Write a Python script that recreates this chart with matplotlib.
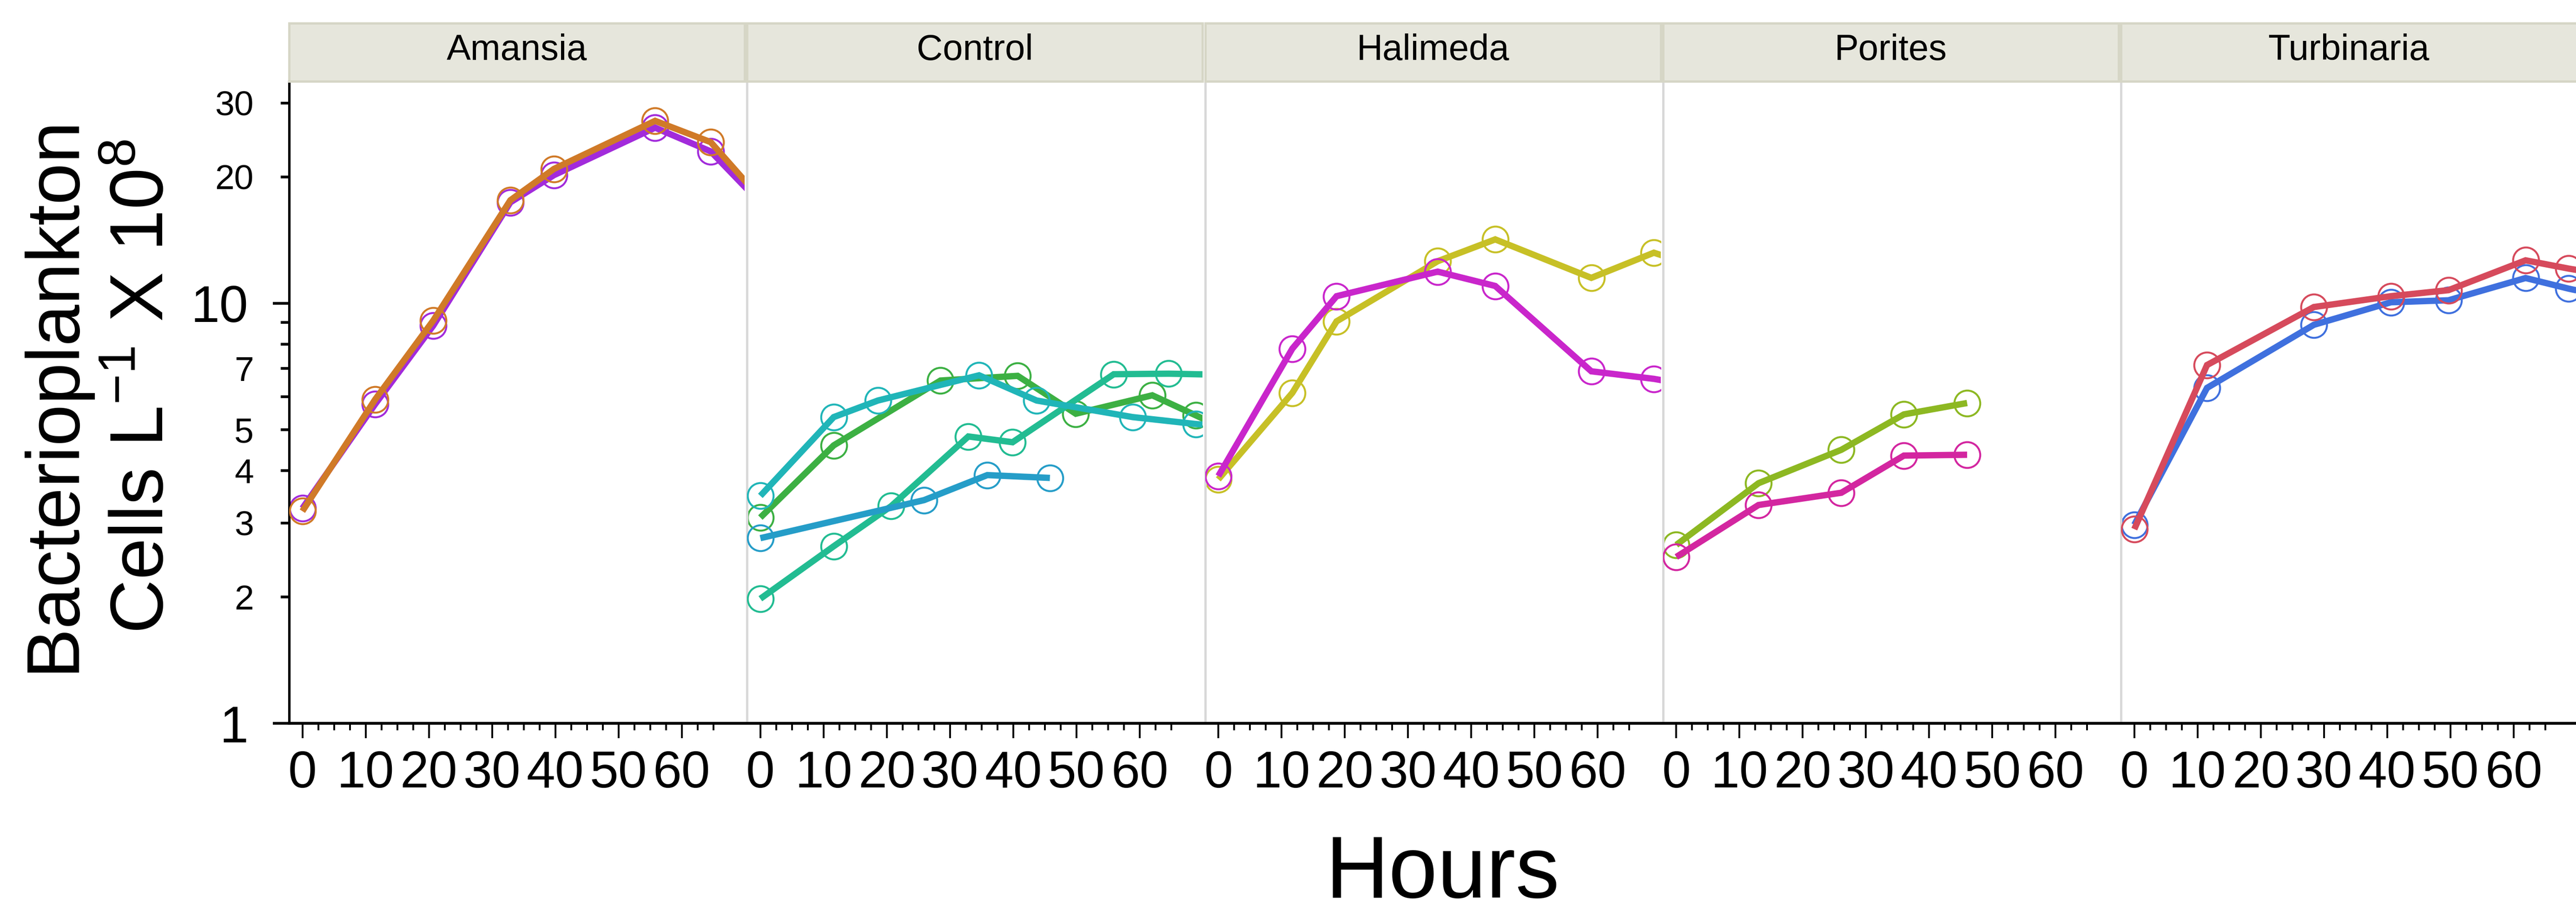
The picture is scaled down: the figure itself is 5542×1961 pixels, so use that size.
import matplotlib
matplotlib.use('Agg')
import matplotlib.pyplot as plt
from matplotlib.ticker import FixedLocator, FixedFormatter, NullFormatter

plt.rcParams['font.family'] = ['Liberation Sans', 'DejaVu Sans']
plt.rcParams['mathtext.fontset'] = 'custom'
plt.rcParams['mathtext.rm'] = 'Liberation Sans'
plt.rcParams['mathtext.it'] = 'Liberation Sans:italic'
plt.rcParams['mathtext.default'] = 'regular'

# ---------------- data ----------------
panels = ['Amansia', 'Control', 'Halimeda', 'Porites', 'Turbinaria']

# Amansia
amansia_hours = [0, 11.5, 20.7, 32.9, 39.8, 55.8, 64.6, 73]
amansia_purple = [3.25, 5.75, 8.85, 17.4, 20.2, 26.2, 23.0, 17.0]
amansia_orange = [3.20, 5.90, 9.10, 17.6, 20.9, 27.2, 24.2, 17.4]

# Control
control_green_hours = [0, 11.6, 28.5, 40.7, 49.9, 62.0, 68.9, 73]
control_green = [3.09, 4.59, 6.55, 6.72, 5.46, 6.04, 5.41, 5.06]
control_teal_hours = [0, 11.6, 20.7, 32.9, 39.9, 55.9, 64.6, 73]
control_teal = [1.98, 2.64, 3.29, 4.82, 4.67, 6.78, 6.80, 6.76]
control_cyan_hours = [0, 11.6, 18.6, 34.6, 43.7, 58.9, 68.9, 73]
control_cyan = [3.48, 5.36, 5.87, 6.74, 5.87, 5.36, 5.16, 5.10]
control_blue_hours = [0, 25.9, 35.9, 45.8]
control_blue = [2.76, 3.40, 3.90, 3.84]

# Halimeda
halimeda_hours = [0, 11.7, 18.7, 34.7, 43.8, 59.0, 68.9, 73]
halimeda_magenta = [3.88, 7.80, 10.4, 11.9, 11.0, 6.89, 6.61, 6.45]
halimeda_yellow = [3.81, 6.12, 9.06, 12.6, 14.2, 11.5, 13.2, 12.6]

# Porites
porites_hours = [0, 13.0, 26.1, 36.0, 46.0]
porites_pink = [2.49, 3.31, 3.54, 4.34, 4.36]
porites_olive = [2.66, 3.73, 4.48, 5.44, 5.79]

# Turbinaria
turbinaria_hours = [0, 11.5, 28.4, 40.6, 49.7, 61.9, 68.7, 73]
turbinaria_blue = [2.97, 6.29, 8.89, 10.06, 10.17, 11.49, 10.84, 10.5]
turbinaria_red = [2.90, 7.13, 9.80, 10.4, 10.75, 12.66, 12.1, 11.8]

panel_series = {
    'Amansia': [(amansia_hours, amansia_purple, '#A22BDB'),
                (amansia_hours, amansia_orange, '#D07A28')],
    'Control': [(control_green_hours, control_green, '#3CB043'),
                (control_teal_hours, control_teal, '#22BC92'),
                (control_cyan_hours, control_cyan, '#20B5B8'),
                (control_blue_hours, control_blue, '#259DC8')],
    'Halimeda': [(halimeda_hours, halimeda_yellow, '#C7C026'),
                 (halimeda_hours, halimeda_magenta, '#C926CB')],
    'Porites': [(porites_hours, porites_olive, '#8DB822'),
                (porites_hours, porites_pink, '#D326A0')],
    'Turbinaria': [(turbinaria_hours, turbinaria_blue, '#3F70DE'),
                   (turbinaria_hours, turbinaria_red, '#D64A5C')],
}

x_major = [0, 10, 20, 30, 40, 50, 60]
x_minor = [2.5, 5, 7.5, 12.5, 15, 17.5, 22.5, 25, 27.5, 32.5, 35, 37.5,
           42.5, 45, 47.5, 52.5, 55, 57.5, 62.5, 65]
y_major = [1, 10]
y_major_labels = ['1', '10']
y_minor = [2, 3, 4, 5, 6, 7, 8, 9, 20, 30]
y_minor_labels = ['2', '3', '4', '5', '', '7', '', '', '20', '30']

# ---------------- layout ----------------
W, H = 5542, 1961
DPI = 200
fig = plt.figure(figsize=(W / DPI, H / DPI), dpi=DPI)


def fx(px):
    return px / W


def fy(py):
    return 1 - py / H


ax_left0, ax_step, ax_w = 622, 985.3, 980
ax_top, ax_bot = 176, 1557
strip_top, strip_bot = 50, 175

for i, name in enumerate(panels):
    l = ax_left0 + i * ax_step
    ax = fig.add_axes([fx(l), fy(ax_bot), fx(ax_w), (ax_bot - ax_top) / H])
    ax.set_yscale('log')
    ax.set_xlim(-2.1, 69.96)
    ax.set_ylim(1, 33.7)
    ax.set_facecolor('white')

    z = 2
    for t, v, c in panel_series[name]:
        ax.plot(t, v, ls='none', marker='o', ms=20, mfc='none', mec=c,
                mew=1.5, zorder=z)
        ax.plot(t, v, color=c, lw=4.9, solid_capstyle='butt',
                solid_joinstyle='miter', zorder=z + 1)
        z += 2

    # spines
    ax.spines['top'].set_visible(False)
    ax.spines['right'].set_visible(False)
    ax.spines['bottom'].set_color('black')
    ax.spines['bottom'].set_linewidth(2.2)
    if i == 0:
        ax.spines['left'].set_color('black')
        ax.spines['left'].set_linewidth(1.9)
    else:
        ax.spines['left'].set_color('#D9D9D9')
        ax.spines['left'].set_linewidth(1.8)

    # x ticks
    ax.xaxis.set_major_locator(FixedLocator(x_major))
    ax.xaxis.set_minor_locator(FixedLocator(x_minor))
    ax.xaxis.set_minor_formatter(NullFormatter())
    ax.tick_params(axis='x', which='major', length=11.5, width=1.4,
                   labelsize=40, pad=9, direction='out')
    ax.tick_params(axis='x', which='minor', length=5.3, width=1.4,
                   direction='out')

    # y ticks
    if i == 0:
        ax.yaxis.set_major_locator(FixedLocator(y_major))
        ax.yaxis.set_major_formatter(FixedFormatter(y_major_labels))
        ax.yaxis.set_minor_locator(FixedLocator(y_minor))
        ax.yaxis.set_minor_formatter(FixedFormatter(y_minor_labels))
        ax.tick_params(axis='y', which='major', length=12.6, width=2.1,
                       labelsize=40, pad=19)
        ax.tick_params(axis='y', which='minor', length=6.5, width=2.1,
                       labelsize=27, pad=21)
    else:
        ax.tick_params(axis='y', which='both', left=False, labelleft=False)

    # strip
    sax = fig.add_axes([fx(l), fy(strip_bot), fx(ax_w),
                        (strip_bot - strip_top) / H])
    sax.set_facecolor('#E6E6DC')
    for sp in sax.spines.values():
        sp.set_color('#D6D6C6')
        sp.set_linewidth(1.8)
    sax.set_xticks([])
    sax.set_yticks([])
    sax.text(0.5, (strip_bot - 129) / (strip_bot - strip_top), name,
             transform=sax.transAxes, ha='center', va='baseline',
             fontsize=28, color='black')

# axis titles
fig.text(fx(158), fy(847), 'Bacterioplankton', rotation=90,
         rotation_mode='anchor', ha='center', va='baseline', fontsize=58)
fig.text(fx(352), fy(832), r'Cells L$^{-1}$ X 10$^{8}$', rotation=90,
         rotation_mode='anchor', ha='center', va='baseline', fontsize=58)
fig.text(fx(3103), fy(1932), 'Hours', ha='center', va='baseline',
         fontsize=68)

fig.savefig('out.png', dpi=DPI, facecolor='white')
